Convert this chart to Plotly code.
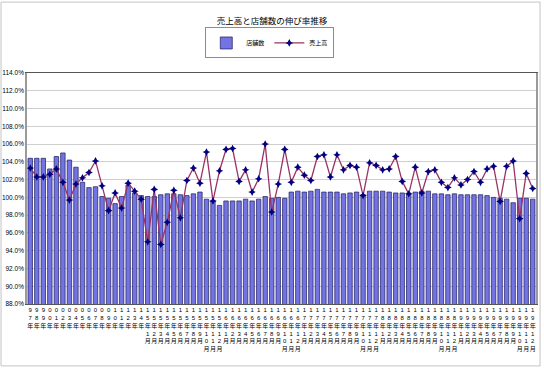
import plotly.graph_objects as go

# Category labels (fiscal years, then months)
years = ["97年", "98年", "99年", "00年", "01年", "02年", "03年", "04年", "05年",
         "06年", "07年", "08年", "09年", "10年", "11年", "12年", "13年", "14年"]
months = [f"{y}年{m}月" for y in ["15", "16", "17", "18", "19"] for m in range(1, 13)]
categories = years + months

# 店舗数 growth rate (%)
stores = [104.4, 104.4, 104.4, 103.2, 104.6, 105.0, 104.2, 103.4, 101.7, 101.1,
          101.2, 100.1, 99.9, 99.3, 100.1, 101.4, 100.5, 100.2, 100.1, 100.1,
          100.3, 100.4, 100.4, 100.3, 100.2, 100.4, 100.6, 99.8, 99.6, 99.1,
          99.6, 99.6, 99.6, 99.8, 99.6, 99.8, 100.1, 99.9, 100.0, 99.9,
          100.6, 100.7, 100.6, 100.7, 100.9, 100.6, 100.6, 100.6, 100.4, 100.5,
          100.6, 100.3, 100.7, 100.7, 100.7, 100.6, 100.5, 100.5, 100.5, 100.6,
          100.7, 100.7, 100.4, 100.4, 100.3, 100.4, 100.3, 100.3, 100.3, 100.3,
          100.2, 100.0, 99.9, 99.8, 99.4, 99.9, 99.9, 99.8]

# 売上高 growth rate (%)
sales = [103.3, 102.3, 102.3, 102.6, 103.2, 101.7, 99.7, 101.5, 102.2, 102.8,
         104.1, 101.3, 98.5, 100.5, 98.8, 101.6, 100.7, 99.8, 95.0, 100.9,
         94.7, 97.2, 100.8, 97.7, 101.9, 103.3, 101.6, 105.1, 99.6, 103.0,
         105.4, 105.5, 101.8, 103.1, 100.6, 102.1, 106.0, 98.35, 101.5, 105.4,
         101.7, 103.4, 102.5, 101.9, 104.6, 104.8, 102.3, 104.8, 103.1, 103.6,
         103.4, 100.2, 103.9, 103.6, 103.1, 103.2, 104.6, 101.8, 100.4, 103.4,
         100.5, 102.9, 103.1, 101.7, 101.1, 102.2, 101.4, 102.0, 102.9, 101.7,
         103.2, 103.5, 99.55, 103.5, 104.1, 97.6, 102.7, 101.0]

tick_text = ["<br>".join(list(c)) for c in categories]

FONT = "Liberation Sans, Noto Sans CJK JP, sans-serif"

fig = go.Figure()
fig.add_trace(go.Bar(
    x=categories, y=stores, name="店舗数",
    marker=dict(color="#7373e3", line=dict(color="#1c1c5c", width=0.7)),
))
fig.add_trace(go.Scatter(
    x=categories, y=sales, name="売上高", mode="lines+markers",
    line=dict(color="#993366", width=1.3),
    marker=dict(symbol="star-diamond", size=5.5, color="#000080"),
))

# outer chart-area border
fig.add_shape(type="rect", xref="paper", yref="paper",
              x0=-0.051, x1=1.008, y0=-0.268, y1=1.307,
              line=dict(color="#c4c4c4", width=1), layer="below")

fig.update_layout(
    width=544, height=369,
    margin=dict(l=27, r=8, t=73, b=65, autoexpand=False),
    paper_bgcolor="white", plot_bgcolor="white",
    font=dict(family=FONT, size=7, color="#000000"),
    title=dict(text="売上高と店舗数の伸び率推移", x=0.5, xanchor="center",
               y=0.944, yanchor="middle", font=dict(size=8.5, family=FONT)),
    bargap=0.32,
    showlegend=True,
    legend=dict(orientation="h", x=0.477, xanchor="center", y=1.13, yanchor="middle",
                bordercolor="#8c8c8c", borderwidth=1, font=dict(size=6),
                itemwidth=30, bgcolor="white", tracegroupgap=0),
    xaxis=dict(tickmode="array", tickvals=categories, ticktext=tick_text,
               range=[-0.5, len(categories) - 0.5],
               tickangle=0, tickfont=dict(size=6), showgrid=False,
               showline=True, linecolor="#555555", linewidth=1, mirror=True,
               ticks="", automargin=False),
    yaxis=dict(range=[88, 114], dtick=2, tickformat=".1f", ticksuffix="%",
               tickfont=dict(size=6.5), showgrid=True, gridcolor="#cfcfcf",
               gridwidth=1, showline=True, linecolor="#9a9a9a", linewidth=1.5,
               mirror=True, zeroline=False, ticks="", automargin=False),
)

fig.write_html("out.html",
               config={"displayModeBar": False},
               post_script="document.body.style.margin='0';document.body.style.overflow='hidden';")
